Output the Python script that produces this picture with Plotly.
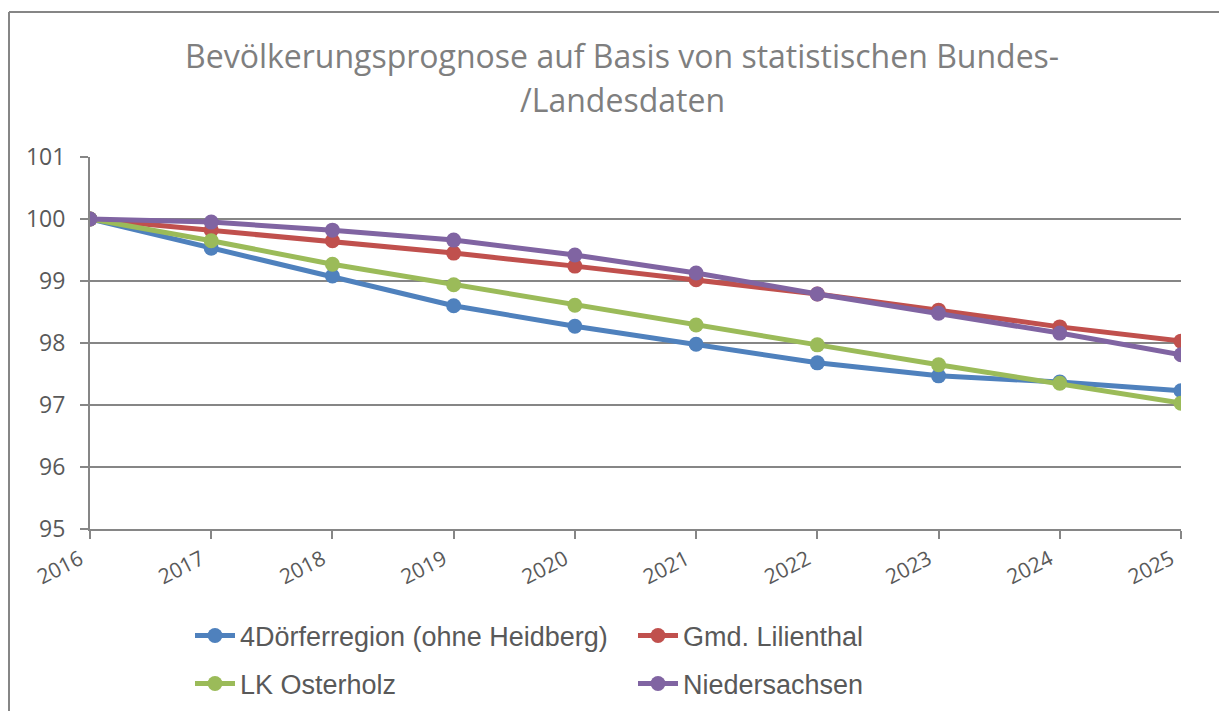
import plotly.graph_objects as go

years = [2016, 2017, 2018, 2019, 2020, 2021, 2022, 2023, 2024, 2025]
doerfer = [100, 99.53, 99.08, 98.60, 98.27, 97.98, 97.68, 97.47, 97.37, 97.23]
lilienthal = [100, 99.82, 99.65, 99.45, 99.24, 99.02, 98.79, 98.53, 98.26, 98.03]
osterholz = [100, 99.65, 99.27, 98.94, 98.61, 98.29, 97.97, 97.65, 97.35, 97.03]
niedersachsen = [100, 99.95, 99.82, 99.66, 99.42, 99.13, 98.79, 98.48, 98.16, 97.81]
yticks = [95, 96, 97, 98, 99, 100, 101]

series = [
    ("4Dörferregion (ohne Heidberg)", doerfer, "#4F81BD", "legend"),
    ("Gmd. Lilienthal", lilienthal, "#C0504D", "legend"),
    ("LK Osterholz", osterholz, "#9BBB59", "legend2"),
    ("Niedersachsen", niedersachsen, "#8064A2", "legend2"),
]

fig = go.Figure()
for name, vals, col, lg in series:
    fig.add_trace(go.Scatter(
        x=years, y=vals, name=name, mode="lines+markers",
        line=dict(color=col, width=5),
        marker=dict(color=col, size=15, symbol="circle"),
        legend=lg,
    ))

# page offset (body margin) in the browser
OFF = 8
W, H = 1227 - OFF, 711 - OFF
# desired plot area in screen pixels: x 90..1181, y 157..529
L, R, T, B = 90 - OFF, 1227 - 1181, 157 - OFF, 711 - 529
pw, ph = W - L - R, H - T - B

def px_x(p):
    return (p - OFF - L) / pw

def px_y(p):
    return (H - B - (p - OFF)) / ph

gray = "#868686"
txt = "#595959"

legend_common = dict(
    orientation="h", xanchor="left", yanchor="middle",
    entrywidth=388, entrywidthmode="pixels",
    font=dict(family="Liberation Sans, Arial, sans-serif", size=27, color=txt),
    bgcolor="rgba(0,0,0,0)", itemwidth=40, tracegroupgap=0,
)

fig.update_layout(
    width=W, height=H,
    margin=dict(l=L, r=R, t=T, b=B, autoexpand=False),
    paper_bgcolor="white", plot_bgcolor="white",
    showlegend=True,
    legend=dict(x=px_x(190), y=px_y(636), **legend_common),
    legend2=dict(x=px_x(190), y=px_y(684), **legend_common),
    xaxis=dict(
        range=[2016, 2025], tickvals=years, ticktext=[str(y) for y in years],
        tickangle=-27, showgrid=False, zeroline=False,
        showline=True, linecolor=gray, linewidth=2,
        ticks="outside", ticklen=8, tickcolor=gray, tickwidth=2,
        ticklabelshift=-10, ticklabelstandoff=0,
        tickfont=dict(family="Open Sans, sans-serif", size=21, color=txt),
    ),
    yaxis=dict(
        range=[95, 101], tickvals=yticks, ticktext=[str(v) for v in yticks],
        showgrid=True, gridcolor=gray, gridwidth=2, zeroline=False,
        showline=True, linecolor=gray, linewidth=2,
        ticks="outside", ticklen=8, tickcolor=gray, tickwidth=2,
        ticklabelstandoff=10,
        tickfont=dict(family="Open Sans, sans-serif", size=23, color=txt),
    ),
    annotations=[
        dict(text="Bevölkerungsprognose auf Basis von statistischen Bundes-",
             x=px_x(622), y=px_y(55), xref="paper", yref="paper",
             showarrow=False, xanchor="center", yanchor="middle",
             font=dict(family="Open Sans, sans-serif", size=32, color="#7f7f7f")),
        dict(text="/Landesdaten",
             x=px_x(622), y=px_y(100), xref="paper", yref="paper",
             showarrow=False, xanchor="center", yanchor="middle",
             font=dict(family="Open Sans, sans-serif", size=32, color="#7f7f7f")),
    ],
    shapes=[
        dict(type="line", xref="paper", yref="paper",
             x0=px_x(9), x1=px_x(9), y0=px_y(12), y1=px_y(730),
             line=dict(color=gray, width=2)),
        dict(type="line", xref="paper", yref="paper",
             x0=px_x(9), x1=px_x(1240), y0=px_y(12), y1=px_y(12),
             line=dict(color=gray, width=2)),
    ],
)

fig.write_html("out.html")
